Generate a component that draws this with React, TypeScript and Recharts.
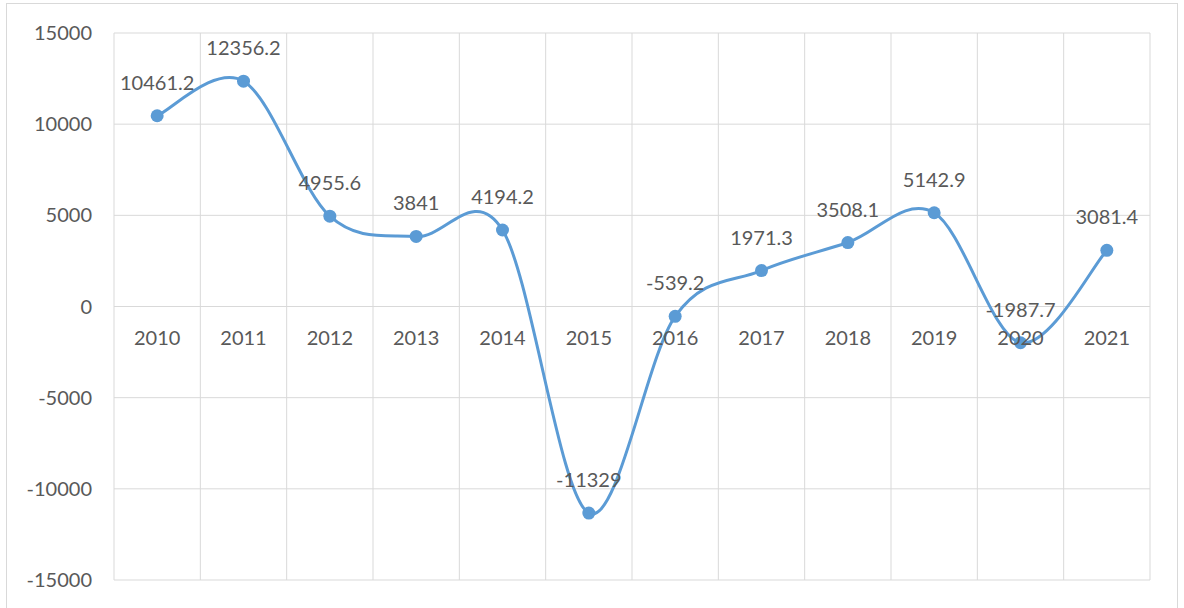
import React from "react";
import {
  LineChart,
  Line,
  XAxis,
  YAxis,
  CartesianGrid,
  LabelList,
  ReferenceLine,
} from "recharts";

const years = [
  "2010", "2011", "2012", "2013", "2014", "2015",
  "2016", "2017", "2018", "2019", "2020", "2021",
];
const values = [
  10461.2, 12356.2, 4955.6, 3841, 4194.2, -11329,
  -539.2, 1971.3, 3508.1, 5142.9, -1987.7, 3081.4,
];
const yTicks = [-15000, -10000, -5000, 0, 5000, 10000, 15000];

const data = years.map((year, i) => ({ year, value: values[i] }));

const WIDTH = 1184;
const HEIGHT = 608;
const X_AXIS_H = 1;
const MARGIN = { top: 33, right: 34, bottom: 28 - X_AXIS_H, left: 0 };
const Y_AXIS_W = 114;
const PLOT_H = HEIGHT - MARGIN.top - MARGIN.bottom - X_AXIS_H;

const TEXT = "#595959";
const GRID = "#d9d9d9";
const BLUE = "#5b9bd5";
const FONT = "Lato, 'Open Sans', sans-serif";
const FS = 20;

// Excel-style smoothed line (uniform Catmull-Rom as cubic beziers)
function excelCurve(context: any) {
  let pts: [number, number][] = [];
  return {
    areaStart() {},
    areaEnd() {},
    lineStart() {
      pts = [];
    },
    lineEnd() {
      if (!pts.length) return;
      context.moveTo(pts[0][0], pts[0][1]);
      for (let i = 0; i < pts.length - 1; i++) {
        const p0 = pts[i - 1] || pts[i];
        const p1 = pts[i];
        const p2 = pts[i + 1];
        const p3 = pts[i + 2] || p2;
        context.bezierCurveTo(
          p1[0] + (p2[0] - p0[0]) / 6,
          p1[1] + (p2[1] - p0[1]) / 6,
          p2[0] - (p3[0] - p1[0]) / 6,
          p2[1] - (p3[1] - p1[1]) / 6,
          p2[0],
          p2[1]
        );
      }
    },
    point(x: number, y: number) {
      pts.push([+x, +y]);
    },
  };
}

// category labels sit just under the zero line, not at the bottom of the plot
function YearTick(props: any) {
  const { x, payload } = props;
  const zeroY = MARGIN.top + PLOT_H / 2;
  return (
    <text
      x={x}
      y={zeroY + 30}
      textAnchor="middle"
      dominantBaseline="central"
      fill={TEXT}
      fontSize={FS}
      fontFamily={FONT}
    >
      {payload.value}
    </text>
  );
}

// vertical gridlines between categories, like Excel
const boundaryLines = ({ offset }: any) => {
  const step = offset.width / years.length;
  return Array.from({ length: years.length + 1 }, (_, i) => offset.left + i * step);
};

export default function App() {
  return (
    <div
      style={{
        position: "absolute",
        left: 0,
        top: 0,
        width: WIDTH,
        height: HEIGHT,
        overflow: "hidden",
        background: "#fff",
      }}
    >
      <div
        style={{
          position: "absolute",
          left: 6,
          top: 3,
          width: 1172,
          height: 640,
          border: `1px solid ${GRID}`,
          boxSizing: "border-box",
        }}
      />
      <div style={{ position: "absolute", left: 0, top: 0 }}>
        <LineChart width={WIDTH} height={HEIGHT} data={data} margin={MARGIN}>
          <CartesianGrid
            stroke={GRID}
            strokeWidth={1}
            verticalCoordinatesGenerator={boundaryLines}
          />
          <XAxis
            dataKey="year"
            scale="band"
            height={X_AXIS_H}
            axisLine={false}
            tickLine={false}
            interval={0}
            tick={<YearTick />}
          />
          <YAxis
            domain={[-15000, 15000]}
            ticks={yTicks}
            width={Y_AXIS_W}
            axisLine={false}
            tickLine={false}
            tickMargin={16}
            tick={{ fill: TEXT, fontSize: FS, fontFamily: FONT }}
          />
          <ReferenceLine y={0} stroke={GRID} strokeWidth={1} />
          <Line
            dataKey="value"
            type={excelCurve as any}
            stroke={BLUE}
            strokeWidth={3}
            dot={{ r: 6.5, fill: BLUE, stroke: BLUE, strokeWidth: 0 }}
            activeDot={false}
            isAnimationActive={false}
          >
            <LabelList
              dataKey="value"
              position="top"
              offset={26}
              fill={TEXT}
              fontSize={FS}
              fontFamily={FONT}
            />
          </Line>
        </LineChart>
      </div>
    </div>
  );
}
